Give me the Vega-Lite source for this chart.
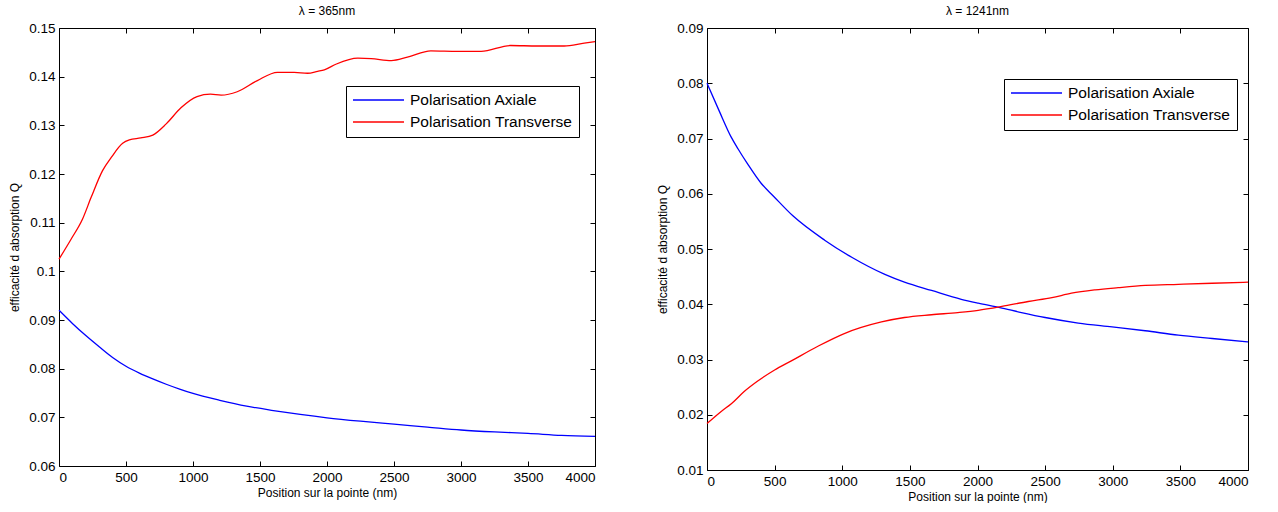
{
  "$schema": "https://vega.github.io/schema/vega-lite/v6.json",
  "background": "white",
  "padding": {"left": 8, "top": 5, "right": 0, "bottom": 0},
  "spacing": 112,
  "bounds": "flush",
  "resolve": {"scale": {"color": "independent"}, "legend": {"color": "independent"}},
  "config": {
    "font": "Liberation Sans",
    "view": {"stroke": null},
    "axis": {
      "grid": false,
      "domainColor": "#000000",
      "tickColor": "#000000",
      "labelColor": "#000000",
      "titleColor": "#000000",
      "domainWidth": 1,
      "tickWidth": 1,
      "tickSize": -5,
      "labelPadding": 9,
      "labelFontSize": 13.5,
      "titleFontSize": 12,
      "titleFontWeight": "normal"
    },
    "axisX": {"titlePadding": 4},
    "axisY": {"titlePadding": 7},
    "title": {"fontSize": 12, "fontWeight": "normal", "color": "#000000", "offset": 3},
    "legend": {
      "strokeColor": "#000000",
      "fillColor": "#ffffff",
      "padding": 6,
      "cornerRadius": 0,
      "symbolType": "stroke",
      "symbolSize": 2600,
      "symbolStrokeWidth": 1.5,
      "clipHeight": 16,
      "rowPadding": 5,
      "labelOffset": 5,
      "labelFontSize": 15.5,
      "labelColor": "#000000",
      "labelLimit": 400
    }
  },
  "datasets": {
    "l365": [
      {"pos": 0, "q": 0.0920, "pol": "Polarisation Axiale"},
      {"pos": 100, "q": 0.0893, "pol": "Polarisation Axiale"},
      {"pos": 200, "q": 0.0868, "pol": "Polarisation Axiale"},
      {"pos": 300, "q": 0.0845, "pol": "Polarisation Axiale"},
      {"pos": 400, "q": 0.0823, "pol": "Polarisation Axiale"},
      {"pos": 500, "q": 0.0805, "pol": "Polarisation Axiale"},
      {"pos": 600, "q": 0.0791, "pol": "Polarisation Axiale"},
      {"pos": 700, "q": 0.0779, "pol": "Polarisation Axiale"},
      {"pos": 800, "q": 0.0768, "pol": "Polarisation Axiale"},
      {"pos": 900, "q": 0.0758, "pol": "Polarisation Axiale"},
      {"pos": 1000, "q": 0.0749, "pol": "Polarisation Axiale"},
      {"pos": 1200, "q": 0.0735, "pol": "Polarisation Axiale"},
      {"pos": 1400, "q": 0.0723, "pol": "Polarisation Axiale"},
      {"pos": 1600, "q": 0.0714, "pol": "Polarisation Axiale"},
      {"pos": 1800, "q": 0.0706, "pol": "Polarisation Axiale"},
      {"pos": 2000, "q": 0.0699, "pol": "Polarisation Axiale"},
      {"pos": 2250, "q": 0.0692, "pol": "Polarisation Axiale"},
      {"pos": 2500, "q": 0.0686, "pol": "Polarisation Axiale"},
      {"pos": 2750, "q": 0.0680, "pol": "Polarisation Axiale"},
      {"pos": 3000, "q": 0.0674, "pol": "Polarisation Axiale"},
      {"pos": 3250, "q": 0.0670, "pol": "Polarisation Axiale"},
      {"pos": 3500, "q": 0.0667, "pol": "Polarisation Axiale"},
      {"pos": 3750, "q": 0.0663, "pol": "Polarisation Axiale"},
      {"pos": 4000, "q": 0.0661, "pol": "Polarisation Axiale"},
      {"pos": 0, "q": 0.1025, "pol": "Polarisation Transverse"},
      {"pos": 90, "q": 0.1066, "pol": "Polarisation Transverse"},
      {"pos": 175, "q": 0.1107, "pol": "Polarisation Transverse"},
      {"pos": 240, "q": 0.1152, "pol": "Polarisation Transverse"},
      {"pos": 325, "q": 0.1207, "pol": "Polarisation Transverse"},
      {"pos": 390, "q": 0.1234, "pol": "Polarisation Transverse"},
      {"pos": 475, "q": 0.1263, "pol": "Polarisation Transverse"},
      {"pos": 525, "q": 0.1270, "pol": "Polarisation Transverse"},
      {"pos": 610, "q": 0.1274, "pol": "Polarisation Transverse"},
      {"pos": 700, "q": 0.1280, "pol": "Polarisation Transverse"},
      {"pos": 800, "q": 0.1303, "pol": "Polarisation Transverse"},
      {"pos": 910, "q": 0.1336, "pol": "Polarisation Transverse"},
      {"pos": 1030, "q": 0.1359, "pol": "Polarisation Transverse"},
      {"pos": 1130, "q": 0.1364, "pol": "Polarisation Transverse"},
      {"pos": 1210, "q": 0.1362, "pol": "Polarisation Transverse"},
      {"pos": 1330, "q": 0.1369, "pol": "Polarisation Transverse"},
      {"pos": 1480, "q": 0.1392, "pol": "Polarisation Transverse"},
      {"pos": 1630, "q": 0.1409, "pol": "Polarisation Transverse"},
      {"pos": 1755, "q": 0.1409, "pol": "Polarisation Transverse"},
      {"pos": 1855, "q": 0.1407, "pol": "Polarisation Transverse"},
      {"pos": 1930, "q": 0.1411, "pol": "Polarisation Transverse"},
      {"pos": 1980, "q": 0.1414, "pol": "Polarisation Transverse"},
      {"pos": 2070, "q": 0.1426, "pol": "Polarisation Transverse"},
      {"pos": 2230, "q": 0.1438, "pol": "Polarisation Transverse"},
      {"pos": 2330, "q": 0.1437, "pol": "Polarisation Transverse"},
      {"pos": 2480, "q": 0.1433, "pol": "Polarisation Transverse"},
      {"pos": 2600, "q": 0.1440, "pol": "Polarisation Transverse"},
      {"pos": 2775, "q": 0.1453, "pol": "Polarisation Transverse"},
      {"pos": 2975, "q": 0.1452, "pol": "Polarisation Transverse"},
      {"pos": 3150, "q": 0.1452, "pol": "Polarisation Transverse"},
      {"pos": 3370, "q": 0.1464, "pol": "Polarisation Transverse"},
      {"pos": 3570, "q": 0.1463, "pol": "Polarisation Transverse"},
      {"pos": 3770, "q": 0.1463, "pol": "Polarisation Transverse"},
      {"pos": 3920, "q": 0.1469, "pol": "Polarisation Transverse"},
      {"pos": 4000, "q": 0.1472, "pol": "Polarisation Transverse"}
    ],
    "l1241": [
      {"pos": 0, "q": 0.0800, "pol": "Polarisation Axiale"},
      {"pos": 90, "q": 0.0750, "pol": "Polarisation Axiale"},
      {"pos": 180, "q": 0.0702, "pol": "Polarisation Axiale"},
      {"pos": 230, "q": 0.0681, "pol": "Polarisation Axiale"},
      {"pos": 300, "q": 0.0654, "pol": "Polarisation Axiale"},
      {"pos": 400, "q": 0.0619, "pol": "Polarisation Axiale"},
      {"pos": 490, "q": 0.0596, "pol": "Polarisation Axiale"},
      {"pos": 635, "q": 0.0560, "pol": "Polarisation Axiale"},
      {"pos": 870, "q": 0.0516, "pol": "Polarisation Axiale"},
      {"pos": 1070, "q": 0.0485, "pol": "Polarisation Axiale"},
      {"pos": 1315, "q": 0.0454, "pol": "Polarisation Axiale"},
      {"pos": 1460, "q": 0.0440, "pol": "Polarisation Axiale"},
      {"pos": 1660, "q": 0.0425, "pol": "Polarisation Axiale"},
      {"pos": 1880, "q": 0.0409, "pol": "Polarisation Axiale"},
      {"pos": 2005, "q": 0.0402, "pol": "Polarisation Axiale"},
      {"pos": 2165, "q": 0.0394, "pol": "Polarisation Axiale"},
      {"pos": 2325, "q": 0.0385, "pol": "Polarisation Axiale"},
      {"pos": 2500, "q": 0.0376, "pol": "Polarisation Axiale"},
      {"pos": 2745, "q": 0.0366, "pol": "Polarisation Axiale"},
      {"pos": 2995, "q": 0.0359, "pol": "Polarisation Axiale"},
      {"pos": 3240, "q": 0.0352, "pol": "Polarisation Axiale"},
      {"pos": 3485, "q": 0.0344, "pol": "Polarisation Axiale"},
      {"pos": 3735, "q": 0.0338, "pol": "Polarisation Axiale"},
      {"pos": 4000, "q": 0.0332, "pol": "Polarisation Axiale"},
      {"pos": 0, "q": 0.0184, "pol": "Polarisation Transverse"},
      {"pos": 105, "q": 0.0206, "pol": "Polarisation Transverse"},
      {"pos": 180, "q": 0.0220, "pol": "Polarisation Transverse"},
      {"pos": 275, "q": 0.0242, "pol": "Polarisation Transverse"},
      {"pos": 375, "q": 0.0261, "pol": "Polarisation Transverse"},
      {"pos": 500, "q": 0.0281, "pol": "Polarisation Transverse"},
      {"pos": 620, "q": 0.0297, "pol": "Polarisation Transverse"},
      {"pos": 820, "q": 0.0324, "pol": "Polarisation Transverse"},
      {"pos": 1015, "q": 0.0347, "pol": "Polarisation Transverse"},
      {"pos": 1290, "q": 0.0368, "pol": "Polarisation Transverse"},
      {"pos": 1460, "q": 0.0376, "pol": "Polarisation Transverse"},
      {"pos": 1660, "q": 0.0381, "pol": "Polarisation Transverse"},
      {"pos": 1855, "q": 0.0385, "pol": "Polarisation Transverse"},
      {"pos": 2005, "q": 0.0389, "pol": "Polarisation Transverse"},
      {"pos": 2180, "q": 0.0396, "pol": "Polarisation Transverse"},
      {"pos": 2375, "q": 0.0405, "pol": "Polarisation Transverse"},
      {"pos": 2550, "q": 0.0412, "pol": "Polarisation Transverse"},
      {"pos": 2695, "q": 0.0420, "pol": "Polarisation Transverse"},
      {"pos": 2870, "q": 0.0426, "pol": "Polarisation Transverse"},
      {"pos": 3040, "q": 0.0430, "pol": "Polarisation Transverse"},
      {"pos": 3240, "q": 0.0434, "pol": "Polarisation Transverse"},
      {"pos": 3485, "q": 0.0436, "pol": "Polarisation Transverse"},
      {"pos": 3735, "q": 0.0438, "pol": "Polarisation Transverse"},
      {"pos": 4000, "q": 0.0440, "pol": "Polarisation Transverse"}
    ]
  },
  "hconcat": [
    {
      "width": 536,
      "height": 438,
      "title": {"text": "λ = 365nm"},
      "data": {"name": "l365"},
      "layer": [
        {
          "mark": {"type": "line", "strokeWidth": 1.3, "interpolate": "monotone"},
          "encoding": {
            "x": {"field": "pos", "type": "quantitative", "scale": {"domain": [0, 4000], "nice": false},
                  "axis": {"values": [0, 500, 1000, 1500, 2000, 2500, 3000, 3500, 4000], "format": "d", "title": "Position sur la pointe (nm)"}},
            "y": {"field": "q", "type": "quantitative", "scale": {"domain": [0.06, 0.15], "nice": false, "zero": false},
                  "axis": {"values": [0.06, 0.07, 0.08, 0.09, 0.1, 0.11, 0.12, 0.13, 0.14, 0.15], "format": ".2~f", "title": "efficacité d absorption Q"}},
            "color": {"field": "pol", "type": "nominal",
                      "scale": {"domain": ["Polarisation Axiale", "Polarisation Transverse"], "range": ["#0000ff", "#ff0000"]},
                      "legend": {"title": null, "orient": "none", "legendX": 287, "legendY": 58}}
          }
        },
        {
          "mark": {"type": "point", "opacity": 0},
          "encoding": {
            "x": {"field": "pos", "type": "quantitative", "scale": {"domain": [0, 4000], "nice": false},
                  "axis": {"orient": "top", "labels": false, "title": null, "values": [0, 500, 1000, 1500, 2000, 2500, 3000, 3500, 4000]}},
            "y": {"field": "q", "type": "quantitative", "scale": {"domain": [0.06, 0.15], "nice": false, "zero": false},
                  "axis": {"orient": "right", "labels": false, "title": null, "values": [0.06, 0.07, 0.08, 0.09, 0.1, 0.11, 0.12, 0.13, 0.14, 0.15]}}
          }
        }
      ],
      "resolve": {"axis": {"x": "independent", "y": "independent"}}
    },
    {
      "width": 541,
      "height": 442,
      "title": {"text": "λ = 1241nm"},
      "data": {"name": "l1241"},
      "layer": [
        {
          "mark": {"type": "line", "strokeWidth": 1.3, "interpolate": "monotone"},
          "encoding": {
            "x": {"field": "pos", "type": "quantitative", "scale": {"domain": [0, 4000], "nice": false},
                  "axis": {"values": [0, 500, 1000, 1500, 2000, 2500, 3000, 3500, 4000], "format": "d", "title": "Position sur la pointe (nm)"}},
            "y": {"field": "q", "type": "quantitative", "scale": {"domain": [0.01, 0.09], "nice": false, "zero": false},
                  "axis": {"values": [0.01, 0.02, 0.03, 0.04, 0.05, 0.06, 0.07, 0.08, 0.09], "format": ".2~f", "title": "efficacité d absorption Q"}},
            "color": {"field": "pol", "type": "nominal",
                      "scale": {"domain": ["Polarisation Axiale", "Polarisation Transverse"], "range": ["#0000ff", "#ff0000"]},
                      "legend": {"title": null, "orient": "none", "legendX": 297, "legendY": 51}}
          }
        },
        {
          "mark": {"type": "point", "opacity": 0},
          "encoding": {
            "x": {"field": "pos", "type": "quantitative", "scale": {"domain": [0, 4000], "nice": false},
                  "axis": {"orient": "top", "labels": false, "title": null, "values": [0, 500, 1000, 1500, 2000, 2500, 3000, 3500, 4000]}},
            "y": {"field": "q", "type": "quantitative", "scale": {"domain": [0.01, 0.09], "nice": false, "zero": false},
                  "axis": {"orient": "right", "labels": false, "title": null, "values": [0.01, 0.02, 0.03, 0.04, 0.05, 0.06, 0.07, 0.08, 0.09]}}
          }
        }
      ],
      "resolve": {"axis": {"x": "independent", "y": "independent"}}
    }
  ]
}
